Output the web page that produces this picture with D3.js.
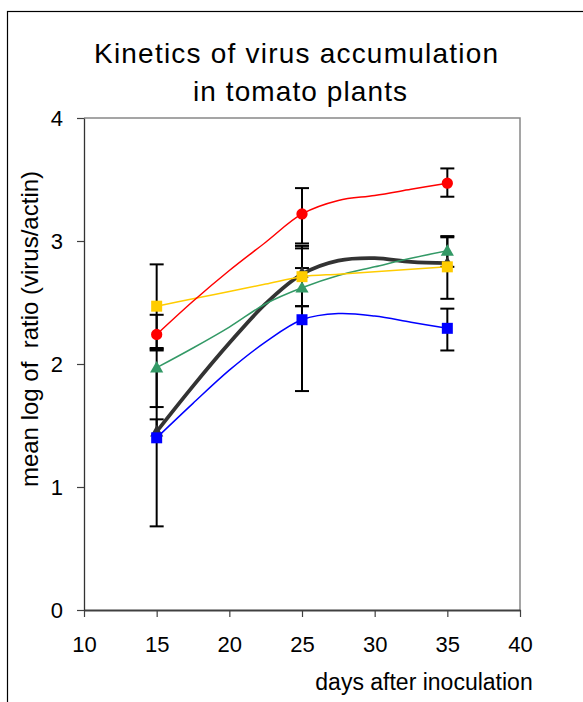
<!DOCTYPE html>
<html>
<head>
<meta charset="utf-8">
<script src="https://cdn.jsdelivr.net/npm/d3@7"></script>
<style>
  html, body { margin: 0; padding: 0; background: #fff; }
  svg { display: block; font-family: "Liberation Sans", Arial, sans-serif; }
</style>
</head>
<body>
<svg id="chart" width="583" height="702"></svg>
<script>
// days with measured points (markers + error bars)
const markerDays = [15, 25, 35];
const curveDays = [15, 17.5, 20, 22.5, 25, 27.5, 30, 32.5, 35];
const xTicks = [10, 15, 20, 25, 30, 35, 40];
const yTicks = [0, 1, 2, 3, 4];

const meanCurve   = [1.45, 1.82, 2.17, 2.49, 2.73, 2.84, 2.86, 2.83, 2.82];
const blueCurve   = [1.40, 1.68, 1.95, 2.18, 2.36, 2.41, 2.39, 2.34, 2.29];
const greenCurve  = [1.97, 2.13, 2.30, 2.49, 2.62, 2.72, 2.79, 2.86, 2.92];
const yellowCurve = [2.47, 2.53, 2.59, 2.65, 2.71, 2.73, 2.75, 2.77, 2.79];
const redCurve    = [2.24, 2.51, 2.76, 2.99, 3.22, 3.33, 3.37, 3.42, 3.47];

const meanPts   = [1.45, 2.74, 2.82];
const bluePts   = [1.40, 2.36, 2.29];
const greenPts  = [1.97, 2.62, 2.92];
const yellowPts = [2.47, 2.71, 2.79];
const redPts    = [2.24, 3.22, 3.47];

// error bar ends, null = no bar on that side
const meanLo   = [null, null, null],  meanHi   = [1.55, null, null];
const blueLo   = [0.68, 1.78, 2.11],  blueHi   = [2.12, 2.94, 2.45];
const greenLo  = [1.65, 2.47, 2.79],  greenHi  = [null, 2.78, 3.03];
const yellowLo = [2.13, 2.47, 2.53],  yellowHi = [2.81, 2.96, 3.04];
const redLo    = [2.11, 2.98, 3.36],  redHi    = [2.40, 3.43, 3.59];

const series = [
  {name: "mean",   curve: meanCurve,   pts: meanPts,   lo: meanLo,   hi: meanHi,   color: "#333333", width: 3.8, shape: "triangle"},
  {name: "blue",   curve: blueCurve,   pts: bluePts,   lo: blueLo,   hi: blueHi,   color: "#0000ff", width: 1.5, shape: "square"},
  {name: "green",  curve: greenCurve,  pts: greenPts,  lo: greenLo,  hi: greenHi,  color: "#339966", width: 1.5, shape: "triangle"},
  {name: "yellow", curve: yellowCurve, pts: yellowPts, lo: yellowLo, hi: yellowHi, color: "#ffcc00", width: 1.5, shape: "square"},
  {name: "red",    curve: redCurve,    pts: redPts,    lo: redLo,    hi: redHi,    color: "#ff0000", width: 1.5, shape: "circle"}
];

let margin = {"left": 84, "top": 118, "bottom": 92, "right": 63};
let width = 583;
let height = 702;

let svg = d3.select("#chart");

// outer frame, runs off the right and bottom edges
svg.append("rect")
  .attr("x", 7.5).attr("y", 11.5)
  .attr("width", 700).attr("height", 800)
  .attr("fill", "none").attr("stroke", "#000").attr("stroke-width", 1.2);

let x = d3.scaleLinear().domain([10, 40]).range([margin.left, width - margin.right]);
let y = d3.scaleLinear().domain([0, 4]).range([height - margin.bottom, margin.top]);

// plot frame top/right
svg.append("path")
  .attr("d", `M${x(10)},${y(4)}H${x(40)}V${y(0)}`)
  .attr("fill", "none").attr("stroke", "#888").attr("stroke-width", 1.5);

let axisX = svg.append("g").attr("class", "axisX")
  .attr("transform", `translate(0,${y(0)})`)
  .call(d3.axisBottom(x).tickValues(xTicks).tickFormat(d3.format("d")).tickSize(7).tickPadding(19).tickSizeOuter(0))
  .call(g => g.select(".domain").attr("stroke", "#404040").attr("stroke-width", 2.2))
  .call(g => g.selectAll(".tick line").attr("stroke", "#404040").attr("stroke-width", 1.2))
  .call(g => g.selectAll(".tick text").attr("font-size", 22).attr("fill", "#000")
    .attr("font-family", "Liberation Sans, Arial, sans-serif"));

let axisY = svg.append("g").attr("class", "axisY")
  .attr("transform", `translate(${x(10)},0)`)
  .call(d3.axisLeft(y).tickValues(yTicks).tickFormat(d3.format("d")).tickSize(7).tickPadding(14).tickSizeOuter(0))
  .call(g => g.select(".domain").attr("stroke", "#333").attr("stroke-width", 1.3))
  .call(g => g.selectAll(".tick line").attr("stroke", "#404040").attr("stroke-width", 1.2))
  .call(g => g.selectAll(".tick text").attr("font-size", 22).attr("fill", "#000")
    .attr("font-family", "Liberation Sans, Arial, sans-serif"));

// error bars
let bars = svg.append("g").attr("class", "errors")
  .attr("stroke", "#000").attr("stroke-width", 2).attr("fill", "none");
series.forEach(function(s){
  markerDays.forEach(function(d, i){
    let lo = s.lo[i] === null ? s.pts[i] : s.lo[i];
    let hi = s.hi[i] === null ? s.pts[i] : s.hi[i];
    bars.append("line")
      .attr("x1", x(d)).attr("x2", x(d))
      .attr("y1", y(lo)).attr("y2", y(hi));
    [s.lo[i], s.hi[i]].forEach(function(v){
      if (v === null) return;
      bars.append("line")
        .attr("x1", x(d) - 7).attr("x2", x(d) + 7)
        .attr("y1", y(v)).attr("y2", y(v));
    });
  });
});

const line = d3.line()
  .x((d, i) => x(curveDays[i]))
  .y(d => y(d))
  .curve(d3.curveCatmullRom.alpha(0.5));

function symbolPath(shape){
  if (shape === "circle") return d3.symbol(d3.symbolCircle, 100)();
  if (shape === "square") return d3.symbol(d3.symbolSquare, 121)();
  return d3.symbol(d3.symbolTriangle, 75)();
}

let items = svg.append("g").attr("class", "series")
  .selectAll("g.item")
  .data(series)
  .join("g")
  .attr("class", "item");

items.append("path")
  .attr("fill", "none")
  .attr("stroke", d => d.color)
  .attr("stroke-width", d => d.width)
  .attr("stroke-linejoin", "round")
  .attr("stroke-linecap", "round")
  .attr("d", d => line(d.curve));

items.selectAll("path.marker")
  .data(d => d.pts.map((v, i) => ({v: v, day: markerDays[i], s: d})))
  .join("path")
  .attr("class", "marker")
  .attr("fill", d => d.s.color)
  .attr("transform", d => `translate(${x(d.day)},${y(d.v) + (d.s.shape === "triangle" ? 1 : 0)})`)
  .attr("d", d => symbolPath(d.s.shape));

// titles
svg.append("text")
  .attr("x", 296).attr("y", 63)
  .attr("text-anchor", "middle")
  .attr("font-size", 28)
  .attr("textLength", 404).attr("lengthAdjust", "spacing")
  .text("Kinetics of virus accumulation");
svg.append("text")
  .attr("x", 300).attr("y", 101)
  .attr("text-anchor", "middle")
  .attr("font-size", 28)
  .attr("textLength", 214).attr("lengthAdjust", "spacing")
  .text("in tomato plants");

svg.append("text")
  .attr("transform", "translate(38,329) rotate(-90)")
  .attr("text-anchor", "middle")
  .attr("font-size", 24)
  .style("white-space", "pre")
  .text("mean log of  ratio (virus/actin)");

svg.append("text")
  .attr("x", 424).attr("y", 690)
  .attr("text-anchor", "middle")
  .attr("font-size", 23)
  .text("days after inoculation");
</script>
</body>
</html>
